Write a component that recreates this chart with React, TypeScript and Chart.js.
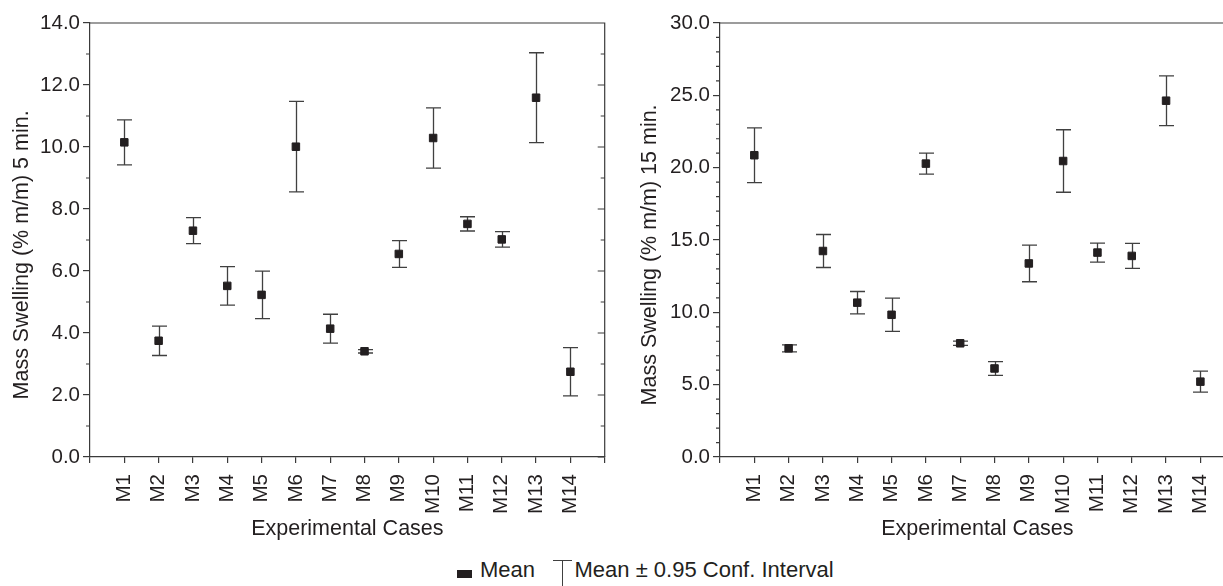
import React, { useEffect, useRef } from 'react';
import { Chart, registerables } from 'chart.js';

Chart.register(...registerables);

// ---------- data ----------
const categories = ['M1', 'M2', 'M3', 'M4', 'M5', 'M6', 'M7', 'M8', 'M9', 'M10', 'M11', 'M12', 'M13', 'M14'];

// 5 min: mean and half-width of the 0.95 confidence interval
const mean5 = [10.15, 3.75, 7.30, 5.52, 5.23, 10.01, 4.14, 3.41, 6.55, 10.29, 7.52, 7.02, 11.59, 2.75];
const ci5 = [0.725, 0.475, 0.42, 0.62, 0.765, 1.46, 0.465, 0.055, 0.43, 0.97, 0.23, 0.25, 1.45, 0.78];

// 15 min
const mean15 = [20.86, 7.51, 14.24, 10.67, 9.83, 20.28, 7.86, 6.12, 13.38, 20.46, 14.13, 13.90, 24.63, 5.21];
const ci15 = [1.89, 0.24, 1.14, 0.77, 1.15, 0.725, 0.145, 0.475, 1.265, 2.16, 0.655, 0.865, 1.72, 0.725];

const yMax5 = 14;
const yStep5 = 2;
const yMinor5 = 1;
const yTitle5 = 'Mass Swelling (% m/m) 5 min.';

const yMax15 = 30;
const yStep15 = 5;
const yMinor15 = 1;
const yTitle15 = 'Mass Swelling (% m/m) 15 min.';

const xTitle = 'Experimental Cases';
const legendMean = 'Mean';
const legendCI = 'Mean \u00b1 0.95 Conf. Interval';

// ---------- style ----------
const FONT = '"Liberation Sans", Arial, Helvetica, sans-serif';
const TEXT = '#231f20';
const AXIS = '#3a3a3a';
const MARK = '#231f20';
const BAR = '#404040';
const CW = 611;
const CH = 546;
// trailing non-breaking spaces shift the rotated y title down a little, as in the original
const TITLE_SHIFT = '\u00a0\u00a0\u00a0\u00a0\u00a0';

function makeDecor(means: number[], ci: number[], minorStep: number, majorStep: number) {
  return {
    id: 'decor',
    beforeDatasetsDraw(chart: any) {
      const { ctx } = chart;
      const xs = chart.scales.x;
      const ys = chart.scales.y;
      ctx.save();
      ctx.strokeStyle = BAR;
      ctx.lineWidth = 1.3;
      means.forEach((m, i) => {
        const x = Math.round(xs.getPixelForValue(i + 1)) + 0.5;
        const yt = ys.getPixelForValue(m + ci[i]);
        const yb = ys.getPixelForValue(m - ci[i]);
        ctx.beginPath();
        ctx.moveTo(x, yt);
        ctx.lineTo(x, yb);
        ctx.moveTo(x - 7.5, yt);
        ctx.lineTo(x + 7.5, yt);
        ctx.moveTo(x - 7.5, yb);
        ctx.lineTo(x + 7.5, yb);
        ctx.stroke();
      });
      ctx.restore();
    },
    afterDraw(chart: any) {
      const { ctx, chartArea: a } = chart;
      const ys = chart.scales.y;
      ctx.save();
      ctx.strokeStyle = AXIS;
      ctx.lineWidth = 1.2;
      ctx.beginPath();
      ctx.moveTo(a.left, a.top);
      ctx.lineTo(a.right, a.top);
      ctx.lineTo(a.right, a.bottom);
      for (let v = ys.min; v <= ys.max + 1e-9; v += minorStep) {
        const y = ys.getPixelForValue(v);
        const r = v / majorStep;
        const isMajor = Math.abs(r - Math.round(r)) < 1e-6;
        if (!isMajor) {
          ctx.moveTo(a.left - 4, y);
          ctx.lineTo(a.left, y);
        }
        const len = isMajor ? 7 : 4;
        ctx.moveTo(a.right - len, y);
        ctx.lineTo(a.right, y);
      }
      ctx.stroke();
      ctx.restore();
    },
  };
}

function buildConfig(means: number[], ci: number[], yMax: number, yStep: number, yMinor: number, yTitle: string, titlePad: number) {
  return {
    type: 'scatter',
    data: {
      datasets: [
        {
          data: means.map((m, i) => ({ x: i + 1, y: m })),
          pointStyle: 'rect',
          pointRadius: 5.3,
          pointBackgroundColor: MARK,
          pointBorderColor: MARK,
          pointBorderWidth: 1,
          showLine: false,
        },
      ],
    },
    options: {
      animation: false,
      responsive: false,
      devicePixelRatio: 1,
      events: [],
      layout: { padding: { top: 23, right: 6, left: 0, bottom: 0 } },
      plugins: { legend: { display: false }, tooltip: { enabled: false } },
      scales: {
        x: {
          type: 'linear',
          min: 0,
          max: categories.length + 1,
          afterFit: (s: any) => {
            s.height = CH - 457;
            s.paddingLeft = 0;
            s.paddingRight = 0;
          },
          ticks: {
            stepSize: 1,
            autoSkip: false,
            minRotation: 90,
            maxRotation: 90,
            padding: 11,
            color: TEXT,
            font: { family: FONT, size: 20.5 },
            callback: (v: any) => categories[Number(v) - 1] ?? '',
          },
          grid: { drawOnChartArea: false, drawTicks: true, tickLength: 6, color: AXIS, lineWidth: 1.2 },
          border: { display: true, color: AXIS, width: 1.2 },
          title: {
            display: true,
            text: xTitle,
            color: TEXT,
            font: { family: FONT, size: 21.5 },
            padding: { top: 0, bottom: 4 },
          },
        },
        y: {
          type: 'linear',
          min: 0,
          max: yMax,
          afterFit: (s: any) => {
            s.width = 90;
            s.paddingTop = 0;
            s.paddingBottom = 0;
          },
          ticks: {
            stepSize: yStep,
            padding: 3,
            color: TEXT,
            font: { family: FONT, size: 20.5 },
            callback: (v: any) => Number(v).toFixed(1),
          },
          grid: { drawOnChartArea: false, drawTicks: true, tickLength: 7, color: AXIS, lineWidth: 1.2 },
          border: { display: true, color: AXIS, width: 1.2 },
          title: {
            display: true,
            text: yTitle + TITLE_SHIFT,
            color: TEXT,
            font: { family: FONT, size: 21.5 },
            padding: { top: titlePad, bottom: 0 },
          },
        },
      },
    },
    plugins: [makeDecor(means, ci, yMinor, yStep)],
  };
}

function ChartCanvas({ config, left }: { config: any; left: number }) {
  const ref = useRef<HTMLCanvasElement | null>(null);
  useEffect(() => {
    if (!ref.current) return;
    const c = new Chart(ref.current, config);
    return () => c.destroy();
  }, [config]);
  return (
    <canvas
      ref={ref}
      width={CW}
      height={CH}
      style={{ position: 'absolute', left, top: 0, width: CW, height: CH }}
    />
  );
}

const config5 = buildConfig(mean5, ci5, yMax5, yStep5, yMinor5, yTitle5, 9);
const config15 = buildConfig(mean15, ci15, yMax15, yStep15, yMinor15, yTitle15, 7);

export default function App() {
  const textStyle: React.CSSProperties = {
    position: 'absolute',
    top: 559,
    font: `22px ${FONT}`,
    lineHeight: '22px',
    color: TEXT,
    whiteSpace: 'nowrap',
  };
  return (
    <div
      style={{
        position: 'fixed',
        left: 0,
        top: 0,
        width: 1223,
        height: 586,
        overflow: 'hidden',
        background: '#fff',
      }}
    >
      <ChartCanvas config={config5} left={0} />
      <ChartCanvas config={config15} left={630} />
      <div style={{ position: 'absolute', left: 457, top: 570, width: 15, height: 8, background: MARK }} />
      <div style={{ ...textStyle, left: 480 }}>{legendMean}</div>
      <div style={{ position: 'absolute', left: 553, top: 560, width: 19, height: 1.3, background: BAR }} />
      <div style={{ position: 'absolute', left: 562, top: 560, width: 1.3, height: 26, background: BAR }} />
      <div style={{ ...textStyle, left: 574.5 }}>{legendCI}</div>
    </div>
  );
}
